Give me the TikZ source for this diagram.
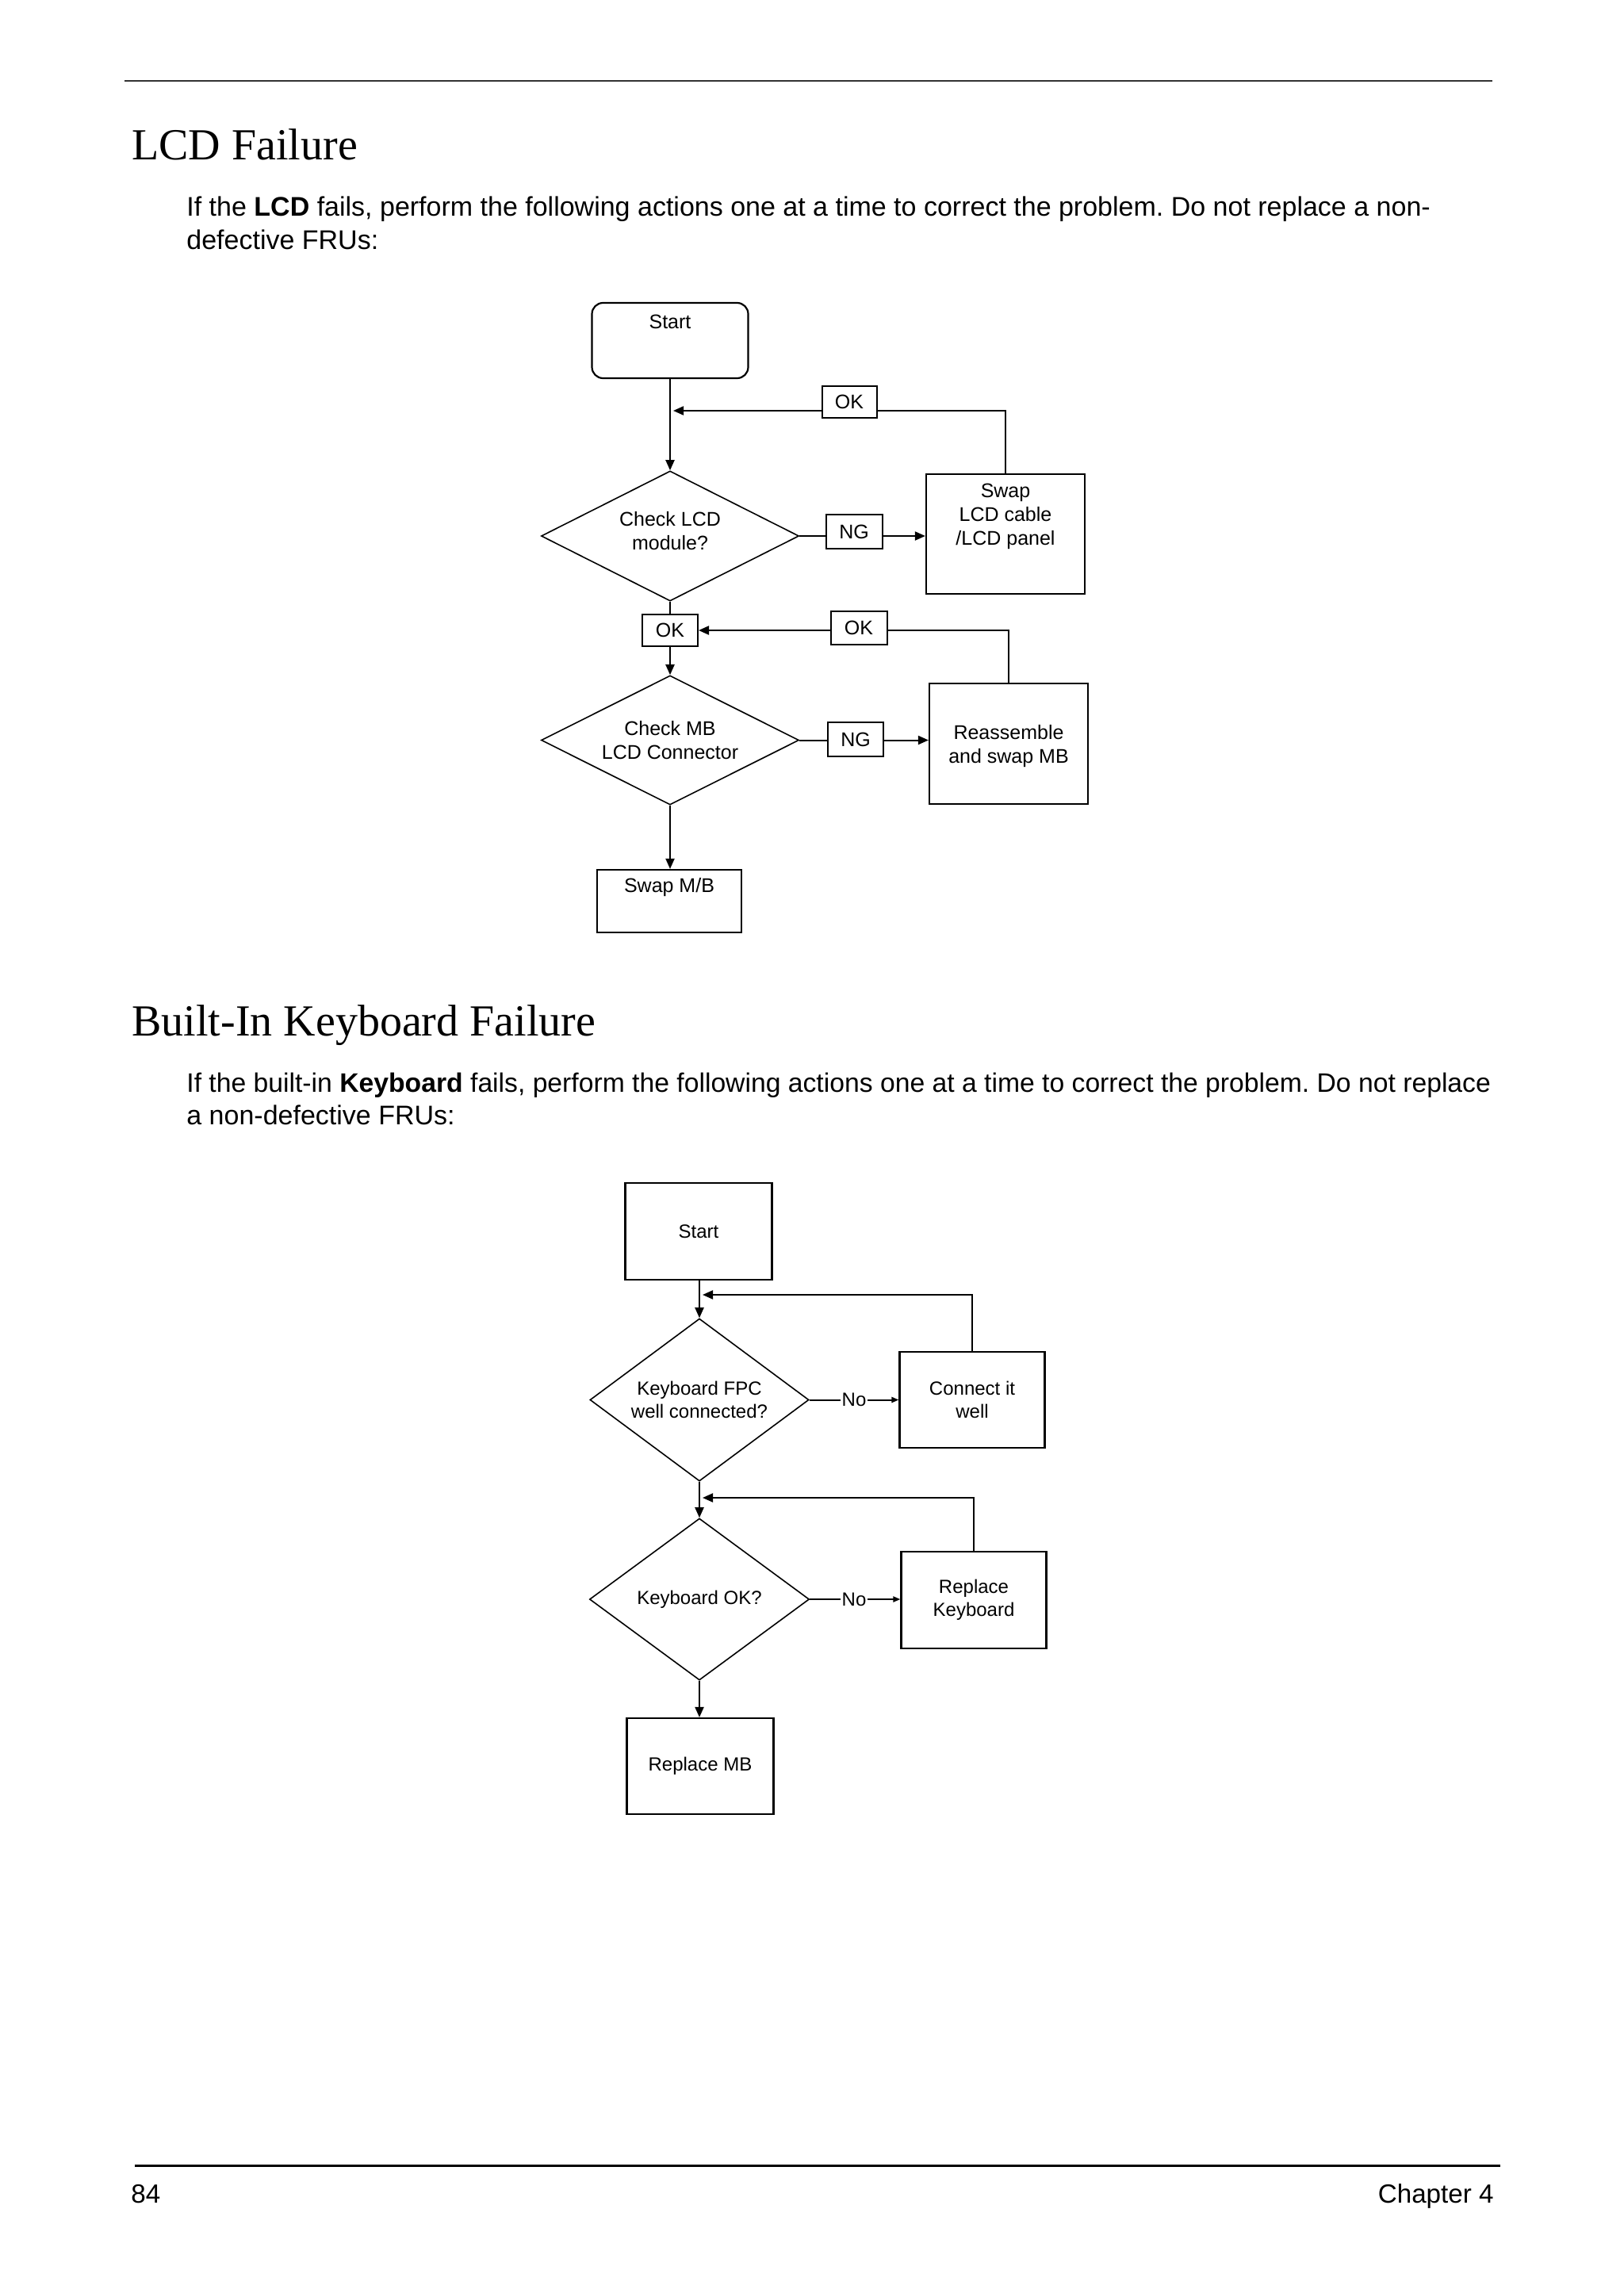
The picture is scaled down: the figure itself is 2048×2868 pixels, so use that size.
\documentclass[tikz,border=0pt]{standalone}
\usepackage{fontspec}
\setmainfont{Liberation Serif}
\setsansfont{Liberation Sans}
\newfontfamily\arialf{Liberation Sans}
\newfontfamily\timesf{Liberation Serif}
\usetikzlibrary{shapes.geometric,arrows.meta}
\frenchspacing
\begin{document}
\begin{tikzpicture}[x=0.5pt,y=-0.5pt,
  heading/.style={anchor=base west,inner sep=0pt,font=\timesf\fontsize{28}{33}\selectfont},
  bodytxt/.style={anchor=base west,inner sep=0pt,font=\arialf\fontsize{17}{21}\selectfont},
  foot/.style={inner sep=0pt,font=\arialf\fontsize{16.6}{20}\selectfont},
  fbox/.style={draw,line width=1.1pt,rectangle,inner sep=0pt,fill=white,
     font=\arialf\fontsize{12.5}{15}\selectfont,align=center},
  kbox/.style={draw,line width=1.1pt,rectangle,inner sep=0pt,fill=white,
     font=\arialf\fontsize{12}{14.5}\selectfont,align=center},
  lbl/.style={font=\arialf\fontsize{12.5}{15}\selectfont,align=center,anchor=center},
  dia/.style={draw,line width=0.8pt,diamond,shape aspect=2,inner sep=0pt},
  kdia/.style={draw,line width=0.8pt,diamond,shape aspect=1.35,inner sep=0pt,
     font=\arialf\fontsize{12}{14.5}\selectfont,align=center},
  tag/.style={draw,line width=1pt,rectangle,inner sep=0pt,fill=white,
     font=\arialf\fontsize{12.5}{15}\selectfont},
  notag/.style={inner sep=0.6pt,fill=white,font=\arialf\fontsize{12}{14.5}\selectfont},
  conn/.style={line width=1pt},
  arr/.style={line width=1pt,-{Triangle[length=6.5pt,width=5.5pt]}},
  arrs/.style={line width=1pt,-{Triangle[length=4.5pt,width=3.5pt]}}]

\useasboundingbox (0,0) rectangle (2048,2868);
\fill[white] (0,0) rectangle (2048,2868);

% header / footer rules
\coordinate (hl) at (157,102);
\coordinate (hr) at (1882,102);
\draw[line width=1.2pt,black!80] (hl) -- (hr);
\coordinate (fl) at (170,2731);
\coordinate (fr) at (1892,2731);
\draw[line width=1.5pt] (fl) -- (fr);

% texts
\node[heading] (h1) at (166,202) {LCD Failure};
\node[bodytxt] (p1a) at (235,273) {If the \textbf{LCD} fails, perform the following actions one at a time to correct the problem. Do not replace a non-};
\node[bodytxt] (p1b) at (235,315) {defective FRUs:};

\node[heading] (h2) at (166,1306) {Built-In Keyboard Failure};
\node[bodytxt,font=\arialf\fontsize{16.85}{21}\selectfont] (p2a) at (235,1377) {If the built-in \textbf{Keyboard} fails, perform the following actions one at a time to correct the problem. Do not replace};
\node[bodytxt] (p2b) at (235,1418) {a non-defective FRUs:};

\node[foot,anchor=base west] (pg) at (165,2778) {84};
\node[foot,anchor=base east] (ch) at (1884,2778) {Chapter 4};

% ---------- LCD flowchart ----------
\node[fbox,rounded corners=7pt,minimum width=98.5pt,minimum height=47.5pt,
  label={[lbl,yshift=-12.5pt]north:Start}]
  (start) at (845,429.5) {};
\node[dia,minimum width=162.5pt,minimum height=82pt,
  label={[lbl,yshift=3pt]center:Check LCD\\module?}] (d1) at (845,676) {};
\node[fbox,minimum width=100pt,minimum height=75.5pt,
  label={[lbl,yshift=-27pt]north:Swap\\LCD cable\\/LCD panel}]
  (swap) at (1268,673.5) {};
\node[dia,minimum width=162.5pt,minimum height=81.5pt,
  label={[lbl]center:Check MB\\LCD Connector}] (d2) at (845,933.5) {};
\node[fbox,minimum width=100pt,minimum height=76pt,
  label={[lbl,yshift=-1.5pt]center:Reassemble\\and swap MB}] (reas) at (1272,938) {};
\node[fbox,minimum width=91pt,minimum height=39.5pt,
  label={[lbl,yshift=-11.5pt]north:Swap M/B}]
  (swapmb) at (844,1136.5) {};

\coordinate (j1) at (849,518);
\draw[arr] (start.south) -- (d1.north);
\draw[arr] (swap.north) |- (j1);
\draw[arr] (d1.east) -- (d1.east -| swap.west);
\node[tag,minimum width=34.5pt,minimum height=20pt] (ok1) at (1071,507) {OK};
\node[tag,minimum width=35.5pt,minimum height=21.5pt] (ng1) at (1077,670.5) {NG};

\node[tag,minimum width=35pt,minimum height=20pt] (ok2) at (845,795) {OK};
\draw[conn] (d1.south) -- (ok2.north);
\draw[arr] (ok2.south) -- (d2.north);
\draw[arr] (reas.north) |- (ok2.east);
\node[tag,minimum width=35.5pt,minimum height=21pt] (ok3) at (1083,792) {OK};
\draw[arr] (d2.east) -- (d2.east -| reas.west);
\node[tag,minimum width=35pt,minimum height=21.5pt] (ng2) at (1079,932.5) {NG};
\draw[arr] (d2.south) -- (d2.south |- swapmb.north);

% ---------- Keyboard flowchart ----------
\node[kbox,minimum width=92.5pt,minimum height=61pt] (kstart) at (881,1553) {Start};
\node[kdia,minimum width=138pt,minimum height=102.5pt] (d3) at (882,1765.5) {Keyboard FPC\\well connected?};
\node[kbox,minimum width=91.5pt,minimum height=60.5pt] (cwell) at (1226,1765.5) {Connect it\\well};
\node[kdia,minimum width=138.5pt,minimum height=102pt] (d4) at (882,2017) {Keyboard OK?};
\node[kbox,minimum width=91.5pt,minimum height=61pt] (rk) at (1228,2018) {Replace\\Keyboard};
\node[kbox,minimum width=92.5pt,minimum height=60.5pt] (rmb) at (883,2227.5) {Replace MB};

\coordinate (j3) at (886,1633);
\coordinate (j4) at (886,1889);
\draw[arr] (kstart.south -| d3.north) -- (d3.north);
\draw[arr] (cwell.north) |- (j3);
\draw[arrs] (d3.east) -- (d3.east -| cwell.west);
\node[notag] (no1) at (1077,1765.5) {No};
\draw[arr] (d3.south) -- (d4.north);
\draw[arr] (rk.north) |- (j4);
\draw[arrs] (d4.east) -- (d4.east -| rk.west);
\node[notag] (no2) at (1077,2017) {No};
\draw[arr] (d4.south) -- (d4.south |- rmb.north);
\end{tikzpicture}
\end{document}
